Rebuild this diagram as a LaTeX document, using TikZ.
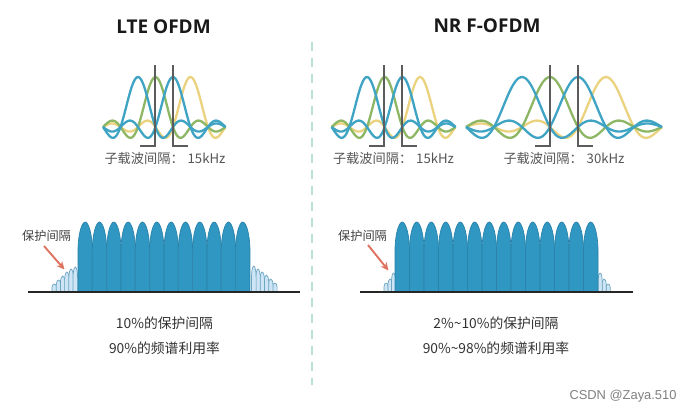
\documentclass[tikz,border=0pt]{standalone}
\usepackage{fontspec}
\setmainfont{Noto Sans CJK SC}
\newfontfamily\titlefont{Open Sans}
\newfontfamily\markfont{Liberation Sans}
\usetikzlibrary{arrows.meta}
\definecolor{wblue}{HTML}{3FA3C4}
\definecolor{wgreen}{HTML}{8DB764}
\definecolor{wyellow}{HTML}{EBD27E}
\definecolor{lobefill}{HTML}{2F97C1}
\definecolor{lobeedge}{HTML}{2B82AA}
\definecolor{guardfill}{HTML}{CDE5F4}
\definecolor{guardedge}{HTML}{6EA6C2}
\definecolor{divcol}{HTML}{B9DFD8}
\definecolor{arrowcol}{HTML}{DE735F}
\definecolor{gridcol}{HTML}{5C5C5C}
\definecolor{subcol}{HTML}{555555}
\tikzset{
  wave/.style={line width=2.3pt,line join=round},
  spacing/.style={gridcol,line width=1.1pt},
  axisline/.style={black!85,line width=1.1pt},
  titletext/.style={font=\titlefont\fontsize{19}{21}\selectfont\bfseries,text=black!90,inner sep=0pt},
  subtext/.style={font=\fontsize{13.2}{15}\selectfont,text=subcol,inner sep=0pt},
  guardtext/.style={font=\fontsize{12.2}{15}\selectfont,text=black!75,inner sep=0pt},
  statstext/.style={font=\fontsize{13.8}{16}\selectfont,text=black!80,inner sep=0pt},
  guardarrow/.style={arrowcol,line width=1.9pt,-{Stealth[length=8pt,width=7.5pt]}},
  mainlobe/.style={fill=lobefill,draw=lobeedge,line width=.7pt},
  smalllobe/.style={fill=guardfill,draw=guardedge,line width=.7pt},
}
% \sinccurve{first}{spacing}{centre}{colour}
\newcommand{\sinccurve}[4]{%
  \pgfmathsetmacro{\lo}{#1-2*#2}\pgfmathsetmacro{\hi}{#1+5*#2}%
  \draw[wave,#4] plot[smooth,samples=90,domain=\lo:\hi,variable=\xx]
    ({\xx},{127-50*sin(180*((\xx-(#3))/#2+0.0013))/(3.14159*((\xx-(#3))/#2+0.0013))});}
\newcommand{\sincset}[2]{%
  \pgfmathsetmacro{\cb}{#1+#2}\pgfmathsetmacro{\cc}{#1+2*#2}\pgfmathsetmacro{\cd}{#1+3*#2}%
  \sinccurve{#1}{#2}{\cd}{wyellow}
  \sinccurve{#1}{#2}{\cb}{wgreen}
  \sinccurve{#1}{#2}{#1}{wblue}
  \sinccurve{#1}{#2}{\cc}{wblue}}
% \lobe{style}{x0}{x1}{top}
\newcommand{\lobe}[4]{%
  \pgfmathsetmacro{\xm}{(#2+#3)/2}\pgfmathsetmacro{\hh}{292-#4}%
  \pgfmathsetmacro{\ya}{#4+.42*\hh}\pgfmathsetmacro{\yb}{#4+.16*\hh}%
  \pgfmathsetmacro{\xl}{\xm-.22*(#3-#2)}\pgfmathsetmacro{\xr}{\xm+.22*(#3-#2)}%
  \draw[#1] (#2,292) -- (#2,\ya) .. controls (#2,\yb) and (\xl,#4) .. (\xm,#4)
     .. controls (\xr,#4) and (#3,\yb) .. (#3,\ya) -- (#3,292);}
\begin{document}
\begin{tikzpicture}[x=1pt,y=-1pt]
\useasboundingbox (0,0) rectangle (692,413);
\fill[white] (0,0) rectangle (692,413);

% titles
\node[titletext] (t1) at (163.5,27) {LTE OFDM};
\node[titletext] (t2) at (487,26) {NR F-OFDM};

% divider
\coordinate (d1) at (312,42);
\coordinate (d2) at (312,385);
\draw[divcol,line width=2pt,dash pattern=on 9pt off 7pt] (d1) -- (d2);

% subcarrier curves
\sincset{138}{17.5}
\sincset{367}{17.7}
\sincset{522}{28}

% spacing markers
\draw[spacing] (140,146) -- (155,146) -- (155,65);
\draw[spacing] (188,146) -- (173,146) -- (173,65);
\draw[spacing] (369,146) -- (384,146) -- (384,65);
\draw[spacing] (417,146) -- (402,146) -- (402,65);
\draw[spacing] (535,146) -- (550,146) -- (550,65);
\draw[spacing] (593,146) -- (578,146) -- (578,65);

% subcarrier labels
\node[subtext] (s1) at (165,158) {子载波间隔：\hspace{.3em}15kHz};
\node[subtext] (s2) at (393.5,158) {子载波间隔：\hspace{.3em}15kHz};
\node[subtext] (s3) at (564,158) {子载波间隔：\hspace{.3em}30kHz};

% left spectrum guards
\foreach \a/\t in {52/284,56.2/280,60.4/276,64.6/272,68.8/269,73/267}{
  \pgfmathsetmacro{\bb}{\a+4.6}\lobe{smalllobe}{\a}{\bb}{\t}}
\foreach \a/\t in {272.5/283,268.3/279,264.1/275,259.9/272,255.7/269,251.5/266}{
  \pgfmathsetmacro{\bb}{\a+4.6}\lobe{smalllobe}{\a}{\bb}{\t}}
% left spectrum
\foreach \i in {0,...,11}{
  \pgfmathsetmacro{\aa}{78+\i*14.33}\pgfmathsetmacro{\bb}{\aa+14.33}
  \lobe{mainlobe}{\aa}{\bb}{222}}
\coordinate (b1a) at (28,292);
\coordinate (b1b) at (300,292);
\draw[axisline] (b1a) -- (b1b);

% right spectrum guards
\foreach \a/\t in {384/283,388/279,391.5/273}{
  \pgfmathsetmacro{\bb}{\a+4.2}\lobe{smalllobe}{\a}{\bb}{\t}}
\foreach \a/\t in {606/284,602/279,598/273}{
  \pgfmathsetmacro{\bb}{\a+4.2}\lobe{smalllobe}{\a}{\bb}{\t}}
% right spectrum
\foreach \i in {0,...,13}{
  \pgfmathsetmacro{\aa}{395+\i*14.5}\pgfmathsetmacro{\bb}{\aa+14.5}
  \lobe{mainlobe}{\aa}{\bb}{222}}
\coordinate (b2a) at (360,292);
\coordinate (b2b) at (633,292);
\draw[axisline] (b2a) -- (b2b);

% guard labels and arrows
\node[guardtext] (g1) at (46.5,236) {保护间隔};
\node[guardtext] (g2) at (362.5,235.5) {保护间隔};
\coordinate (a1s) at (44,246);
\coordinate (a1e) at (64.5,269.5);
\coordinate (a2s) at (368,245);
\coordinate (a2e) at (388.5,270.5);
\draw[guardarrow] (a1s) -- (a1e);
\draw[guardarrow] (a2s) -- (a2e);

% stats
\node[statstext] (l1) at (164.5,323.5) {10\%的保护间隔};
\node[statstext] (l2) at (164.5,348) {90\%的频谱利用率};
\node[statstext] (r1) at (496,323.5) {2\%\textasciitilde10\%的保护间隔};
\node[statstext] (r2) at (496,348) {90\%\textasciitilde98\%的频谱利用率};

% watermark
\node[font=\markfont\fontsize{12.9}{14}\selectfont,text=black!50,inner sep=0pt] (w) at (623,396.5) {CSDN @Zaya.510};
\end{tikzpicture}
\end{document}
